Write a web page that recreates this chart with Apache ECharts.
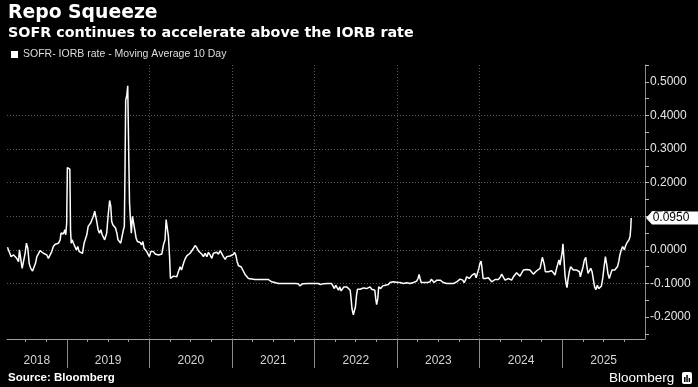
<!DOCTYPE html>
<html><head><meta charset="utf-8">
<script src="https://cdn.jsdelivr.net/npm/echarts@6/dist/echarts.min.js"></script>
<style>html,body{margin:0;padding:0;background:#000;}#c{width:698px;height:387px;}</style>
</head><body><div id="c"></div>
<script>
const seriesName = 'SOFR- IORB rate - Moving Average 10 Day';
const dates = [
'2018-04-13','2018-04-22','2018-04-29','2018-05-10','2018-05-17','2018-05-24','2018-06-01','2018-06-05','2018-06-11','2018-06-17','2018-06-23','2018-06-30','2018-07-06','2018-07-12','2018-07-18','2018-07-25','2018-08-02','2018-08-09','2018-08-15','2018-08-21','2018-08-28','2018-09-04','2018-09-12','2018-09-19','2018-09-27','2018-10-04','2018-10-11','2018-10-19','2018-10-26','2018-11-02','2018-11-10','2018-11-17','2018-11-25','2018-12-02','2018-12-06','2018-12-12','2018-12-17','2018-12-23','2018-12-27','2018-12-31',
'2019-01-03','2019-01-09','2019-01-14','2019-01-17','2019-01-20','2019-01-24','2019-01-30','2019-02-06','2019-02-12','2019-02-18','2019-02-24','2019-03-03','2019-03-11','2019-03-18','2019-03-24','2019-03-30','2019-04-05','2019-04-11','2019-04-16','2019-04-22','2019-04-28','2019-05-04','2019-05-09','2019-05-13','2019-05-19','2019-05-25','2019-05-31','2019-06-06','2019-06-11','2019-06-17','2019-06-22','2019-06-26','2019-07-02','2019-07-09','2019-07-14','2019-07-18','2019-07-23','2019-07-29','2019-08-04','2019-08-10','2019-08-15','2019-08-21','2019-08-27','2019-09-02','2019-09-08','2019-09-12','2019-09-15','2019-09-18','2019-09-23','2019-09-27','2019-10-02','2019-10-05','2019-10-09','2019-10-13','2019-10-18','2019-10-24','2019-10-28','2019-11-03','2019-11-09','2019-11-15','2019-11-21','2019-11-27','2019-12-03','2019-12-08','2019-12-14','2019-12-20','2019-12-28',
'2020-01-01','2020-01-07','2020-01-13','2020-01-19','2020-01-26','2020-02-02','2020-02-10','2020-02-17','2020-02-25','2020-03-03','2020-03-10','2020-03-15','2020-03-21','2020-03-25','2020-03-30','2020-04-03','2020-04-09','2020-04-16','2020-04-24','2020-05-01','2020-05-08','2020-05-16','2020-05-22','2020-05-27','2020-06-02','2020-06-08','2020-06-14','2020-06-21','2020-06-29','2020-07-06','2020-07-14','2020-07-21','2020-07-28','2020-08-05','2020-08-12','2020-08-20','2020-08-27','2020-09-03','2020-09-11','2020-09-18','2020-09-25','2020-10-03','2020-10-10','2020-10-18','2020-10-25','2020-11-01','2020-11-09','2020-11-16','2020-11-23','2020-12-01','2020-12-08','2020-12-15','2020-12-23','2020-12-30',
'2021-01-07','2021-01-11','2021-01-17','2021-01-23','2021-01-29','2021-02-04','2021-02-09','2021-02-15','2021-02-21','2021-02-27','2021-03-07','2021-03-14','2021-03-21','2021-04-12','2021-05-12','2021-06-10','2021-06-18','2021-06-25','2021-07-02','2021-07-25','2021-08-23','2021-10-06','2021-10-21','2021-10-27','2021-11-02','2021-11-08','2021-12-04',
'2022-01-17','2022-01-26','2022-02-01','2022-02-07','2022-03-03','2022-03-17','2022-03-23','2022-03-29','2022-04-04','2022-04-10','2022-04-16','2022-04-22','2022-04-28','2022-05-04','2022-05-10','2022-05-15','2022-05-23','2022-05-30','2022-06-07','2022-06-11','2022-06-15','2022-06-21','2022-06-26','2022-06-30','2022-07-05','2022-07-09','2022-07-15','2022-07-21','2022-07-28','2022-08-05','2022-08-12','2022-08-19','2022-08-27','2022-09-03','2022-09-10','2022-09-18','2022-09-24','2022-09-28','2022-10-02','2022-10-07','2022-10-11','2022-10-16','2022-10-20','2022-10-25','2022-10-29','2022-11-04','2022-11-10','2022-11-16','2022-11-23','2022-11-30','2022-12-08','2022-12-15','2022-12-23',
'2023-01-03','2023-01-06','2023-01-14','2023-01-21','2023-01-28','2023-02-05','2023-02-12','2023-02-20','2023-02-27','2023-03-06','2023-03-14','2023-03-21','2023-03-28','2023-04-03','2023-04-08','2023-04-12','2023-04-17','2023-04-22','2023-04-30','2023-05-07','2023-05-15','2023-05-20','2023-05-26','2023-06-01','2023-06-07','2023-06-13','2023-06-19','2023-06-25','2023-07-02','2023-07-10','2023-07-17','2023-07-24','2023-08-01','2023-08-08','2023-08-15','2023-08-23','2023-08-30','2023-09-07','2023-09-14','2023-09-21','2023-09-29','2023-10-06','2023-10-12','2023-10-18','2023-10-24','2023-10-30','2023-11-04','2023-11-10','2023-11-16','2023-11-22','2023-11-28','2023-12-04','2023-12-10','2023-12-16','2023-12-22','2023-12-28',
'2024-01-02','2024-01-07','2024-01-11','2024-01-16','2024-01-20','2024-01-26','2024-02-01','2024-02-08','2024-02-16','2024-02-23','2024-03-01','2024-03-09','2024-03-16','2024-03-23','2024-03-31','2024-04-07','2024-04-15','2024-04-22','2024-04-29','2024-05-07','2024-05-14','2024-05-21','2024-05-29','2024-06-05','2024-06-12','2024-06-19','2024-06-27','2024-07-05','2024-07-12','2024-07-19','2024-07-27','2024-08-03','2024-08-10','2024-08-18','2024-08-25','2024-09-02','2024-09-09','2024-09-16','2024-09-24','2024-09-30','2024-10-04','2024-10-08','2024-10-13','2024-10-17','2024-10-23','2024-10-31','2024-11-07','2024-11-14','2024-11-22','2024-11-29','2024-12-06','2024-12-12','2024-12-17','2024-12-21','2024-12-26','2024-12-30',
'2025-01-03','2025-01-08','2025-01-12','2025-01-17','2025-01-21','2025-01-25','2025-01-31','2025-02-06','2025-02-12','2025-02-18','2025-02-25','2025-03-05','2025-03-12','2025-03-17','2025-03-21','2025-03-27','2025-04-02','2025-04-08','2025-04-14','2025-04-18','2025-04-24','2025-04-30','2025-05-06','2025-05-12','2025-05-18','2025-05-23','2025-05-29','2025-06-04','2025-06-10','2025-06-16','2025-06-22','2025-06-28','2025-07-04','2025-07-10','2025-07-16','2025-07-21','2025-07-27','2025-08-02','2025-08-08','2025-08-14','2025-08-20','2025-08-26','2025-09-01','2025-09-07','2025-09-12','2025-09-18','2025-09-24','2025-09-27','2025-10-02','2025-10-06','2025-10-12','2025-10-18','2025-10-22','2025-10-27','2025-10-30','2025-11-01'
];
const values = [
0.008,-0.008,-0.020,-0.015,-0.020,-0.025,-0.035,0.000,-0.005,-0.055,-0.058,-0.010,0.020,0.005,-0.040,-0.055,-0.063,-0.065,-0.040,-0.020,-0.012,-0.002,-0.005,-0.010,-0.008,-0.015,-0.025,-0.020,-0.005,0.010,0.017,0.015,0.020,0.030,0.050,0.055,0.048,0.060,0.045,0.080,
0.245,0.248,0.240,0.060,0.020,0.030,0.020,0.022,0.000,0.010,-0.005,0.000,-0.010,0.020,0.025,0.045,0.070,0.072,0.080,0.085,0.100,0.115,0.118,0.085,0.060,0.050,0.060,0.045,0.040,0.030,0.025,0.050,0.100,0.147,0.130,0.085,0.075,0.078,0.065,0.050,0.030,0.025,0.020,0.040,0.060,0.070,0.240,0.445,0.460,0.488,0.260,0.140,0.090,0.050,0.100,0.100,0.060,0.035,0.025,0.020,0.022,0.015,0.025,0.005,0.000,-0.005,-0.010,
-0.020,-0.005,0.000,-0.005,-0.012,-0.010,-0.015,-0.015,-0.012,0.015,0.030,0.090,0.060,0.040,-0.020,-0.085,-0.090,-0.078,-0.075,-0.080,-0.065,-0.050,-0.060,-0.055,-0.035,-0.025,-0.018,-0.013,-0.010,-0.005,0.005,0.013,0.007,-0.003,-0.007,-0.013,-0.020,-0.010,-0.020,-0.007,-0.015,-0.025,-0.010,-0.015,-0.007,-0.013,-0.002,0.000,-0.020,-0.028,-0.020,-0.017,-0.018,-0.017,
-0.013,-0.007,-0.015,-0.035,-0.047,-0.050,-0.050,-0.055,-0.065,-0.073,-0.077,-0.085,-0.088,-0.088,-0.088,-0.088,-0.090,-0.095,-0.100,-0.100,-0.100,-0.100,-0.101,-0.107,-0.107,-0.101,-0.100,
-0.100,-0.103,-0.105,-0.101,-0.100,-0.100,-0.103,-0.115,-0.105,-0.110,-0.120,-0.110,-0.122,-0.120,-0.110,-0.115,-0.110,-0.108,-0.120,-0.145,-0.175,-0.193,-0.197,-0.170,-0.135,-0.117,-0.115,-0.117,-0.115,-0.113,-0.117,-0.115,-0.113,-0.110,-0.117,-0.115,-0.120,-0.145,-0.163,-0.145,-0.110,-0.105,-0.115,-0.110,-0.107,-0.110,-0.105,-0.100,-0.103,-0.097,-0.093,-0.095,-0.097,
-0.097,-0.095,-0.097,-0.097,-0.100,-0.100,-0.098,-0.100,-0.100,-0.100,-0.097,-0.100,-0.093,-0.085,-0.073,-0.085,-0.097,-0.100,-0.097,-0.093,-0.097,-0.100,-0.095,-0.087,-0.090,-0.097,-0.095,-0.090,-0.093,-0.090,-0.095,-0.097,-0.095,-0.100,-0.100,-0.100,-0.097,-0.100,-0.097,-0.095,-0.093,-0.087,-0.083,-0.090,-0.097,-0.090,-0.080,-0.075,-0.085,-0.080,-0.075,-0.073,-0.070,-0.083,-0.080,-0.055,
-0.040,-0.033,-0.055,-0.085,-0.087,-0.085,-0.085,-0.083,-0.083,-0.095,-0.092,-0.088,-0.090,-0.088,-0.082,-0.072,-0.082,-0.090,-0.088,-0.085,-0.090,-0.090,-0.080,-0.075,-0.068,-0.072,-0.078,-0.068,-0.060,-0.062,-0.058,-0.056,-0.060,-0.065,-0.072,-0.070,-0.062,-0.060,-0.055,-0.050,-0.022,-0.025,-0.045,-0.065,-0.062,-0.065,-0.068,-0.062,-0.068,-0.075,-0.055,-0.040,-0.030,-0.045,-0.025,-0.010,
0.018,-0.030,-0.075,-0.100,-0.112,-0.090,-0.065,-0.050,-0.055,-0.060,-0.055,-0.060,-0.055,-0.065,-0.080,-0.065,-0.050,-0.030,-0.022,-0.045,-0.070,-0.065,-0.055,-0.065,-0.090,-0.110,-0.118,-0.105,-0.115,-0.112,-0.108,-0.085,-0.050,-0.020,-0.045,-0.070,-0.085,-0.072,-0.060,-0.055,-0.060,-0.055,-0.050,-0.035,-0.015,0.000,0.010,0.005,0.000,0.010,0.020,0.022,0.030,0.040,0.065,0.095
];
const xMin = '2018-04-11';
const xMax = '2026-01-01';
const yMin = -0.265;
const yMax = 0.55;
const yearStarts = ['2019-01-01','2020-01-01','2021-01-01','2022-01-01','2023-01-01','2024-01-01','2025-01-01'];
const yearLabelDates = ['2018-08-21','2019-07-02','2020-07-02','2021-07-02','2022-07-02','2023-07-02','2024-07-02','2025-07-02'];
const quarterTicks = ['2018-07-01','2018-10-01',
 '2019-04-01','2019-07-01','2019-10-01','2020-04-01','2020-07-01','2020-10-01',
 '2021-04-01','2021-07-01','2021-10-01','2022-04-01','2022-07-01','2022-10-01',
 '2023-04-01','2023-07-01','2023-10-01','2024-04-01','2024-07-01','2024-10-01',
 '2025-04-01','2025-07-01','2025-10-01'];
const yMajor = [-0.2,-0.1,0,0.1,0.2,0.3,0.4,0.5];
const yMinor = [-0.25,-0.15,-0.05,0.05,0.15,0.25,0.35,0.45,0.55];

// date strings -> UTC timestamps for the value-type x axis
function ts(d){ return Date.parse(d + 'T00:00:00Z'); }

const chart = echarts.init(document.getElementById('c'), null, {renderer:'canvas'});
const lastValue = values[values.length-1];
const gridLine = {color:'#5a5a5a', width:1, type:[1,2]};

chart.setOption({
  backgroundColor:'#000',
  animation:false,
  title:[
    {text:'Repo Squeeze', left:8, top:4, padding:0,
     textStyle:{color:'#fff', fontSize:18.8, fontWeight:'bold', fontFamily:'DejaVu Sans'}},
    {text:'SOFR continues to accelerate above the IORB rate', left:8, top:26, padding:0,
     textStyle:{color:'#fff', fontSize:14.3, fontWeight:'bold', fontFamily:'DejaVu Sans'}},
    {text:'Source: Bloomberg', left:8, top:372, padding:0,
     textStyle:{color:'#fff', fontSize:11.5, fontWeight:'bold', fontFamily:'Liberation Sans'}}
  ],
  legend:{
    left:11, top:49, padding:0, icon:'rect', itemWidth:7, itemHeight:7,
    data:[seriesName],
    textStyle:{color:'#dedede', fontSize:10.5, fontFamily:'Liberation Sans'}
  },
  grid:{left:7, right:53, top:65, bottom:48, containLabel:false, outerBoundsMode:'none'},
  xAxis:[
    {type:'value', position:'bottom', min:ts(xMin), max:ts(xMax), scale:true,
     axisLine:{show:true, onZero:false, lineStyle:{color:'#a0a0a0', width:1}},
     axisTick:{show:true, customValues:yearStarts.map(ts), length:29, lineStyle:{color:'#8a8a8a'}},
     axisLabel:{show:true, customValues:yearLabelDates.map(ts), margin:16,
       formatter:function(v){return String(new Date(v).getUTCFullYear());},
       color:'#d4d4d4', fontSize:12, fontFamily:'Liberation Sans'},
     splitLine:{show:true, showMinLine:false, showMaxLine:false, lineStyle:gridLine}},
    {type:'value', position:'bottom', min:ts(xMin), max:ts(xMax), scale:true,
     axisLine:{show:false, onZero:false},
     axisTick:{show:true, customValues:quarterTicks.map(ts), length:3, lineStyle:{color:'#a0a0a0'}},
     axisLabel:{show:false}, splitLine:{show:false}}
  ],
  yAxis:[
    {type:'value', position:'right', min:yMin, max:yMax, splitNumber:8,
     axisLine:{show:true, onZero:false, lineStyle:{color:'#8a8a8a'}},
     axisTick:{show:true, customValues:yMajor, length:4, lineStyle:{color:'#bbbbbb'}},
     axisLabel:{show:true, customValues:yMajor, margin:5,
       formatter:function(v){return Number(v).toFixed(4);},
       color:'#e6e6e6', fontSize:12, fontFamily:'Liberation Sans'},
     splitLine:{show:true, showMinLine:false, showMaxLine:false, lineStyle:gridLine}},
    {type:'value', position:'right', min:yMin, max:yMax, splitNumber:8,
     axisLine:{show:false, onZero:false},
     axisTick:{show:true, customValues:yMinor, length:4, lineStyle:{color:'#bbbbbb'}},
     axisLabel:{show:false}, splitLine:{show:false}}
  ],
  series:[{
    name:seriesName, type:'line', xAxisIndex:0, yAxisIndex:0,
    data:dates.map(function(d,i){return [ts(d), values[i]];}),
    showSymbol:false, symbol:'none', smooth:false,
    itemStyle:{color:'#fff'},
    lineStyle:{color:'#fff', width:1.5},
    markPoint:{
      silent:true, animation:false,
      symbol:'path://M0,6.5 L6,0 L56,0 L56,13 L6,13 Z',
      symbolSize:[56,13], symbolOffset:[29,0], symbolKeepAspect:false,
      itemStyle:{color:'#fff'},
      label:{show:true, position:'inside', offset:[-3,0],
        formatter:function(p){return Number(p.value).toFixed(4);},
        color:'#000', fontSize:12, fontFamily:'Liberation Sans'},
      data:[{coord:[ts(xMax), lastValue], value:lastValue}]
    }
  }],
  graphic:[
    {type:'text', left:609, top:371, style:{text:'Bloomberg', fill:'#fff', font:'13.5px "Liberation Sans"'}},
    {type:'group', left:682, top:372, children:[
      {type:'rect', shape:{x:0, y:0, width:10, height:12, r:2}, style:{fill:'#fff'}},
      {type:'rect', shape:{x:2, y:5, width:1.5, height:5}, style:{fill:'#000'}},
      {type:'rect', shape:{x:4.3, y:3, width:1.5, height:7}, style:{fill:'#000'}},
      {type:'rect', shape:{x:6.6, y:6, width:1.5, height:4}, style:{fill:'#000'}}
    ]}
  ]
});
</script>
</body></html>
